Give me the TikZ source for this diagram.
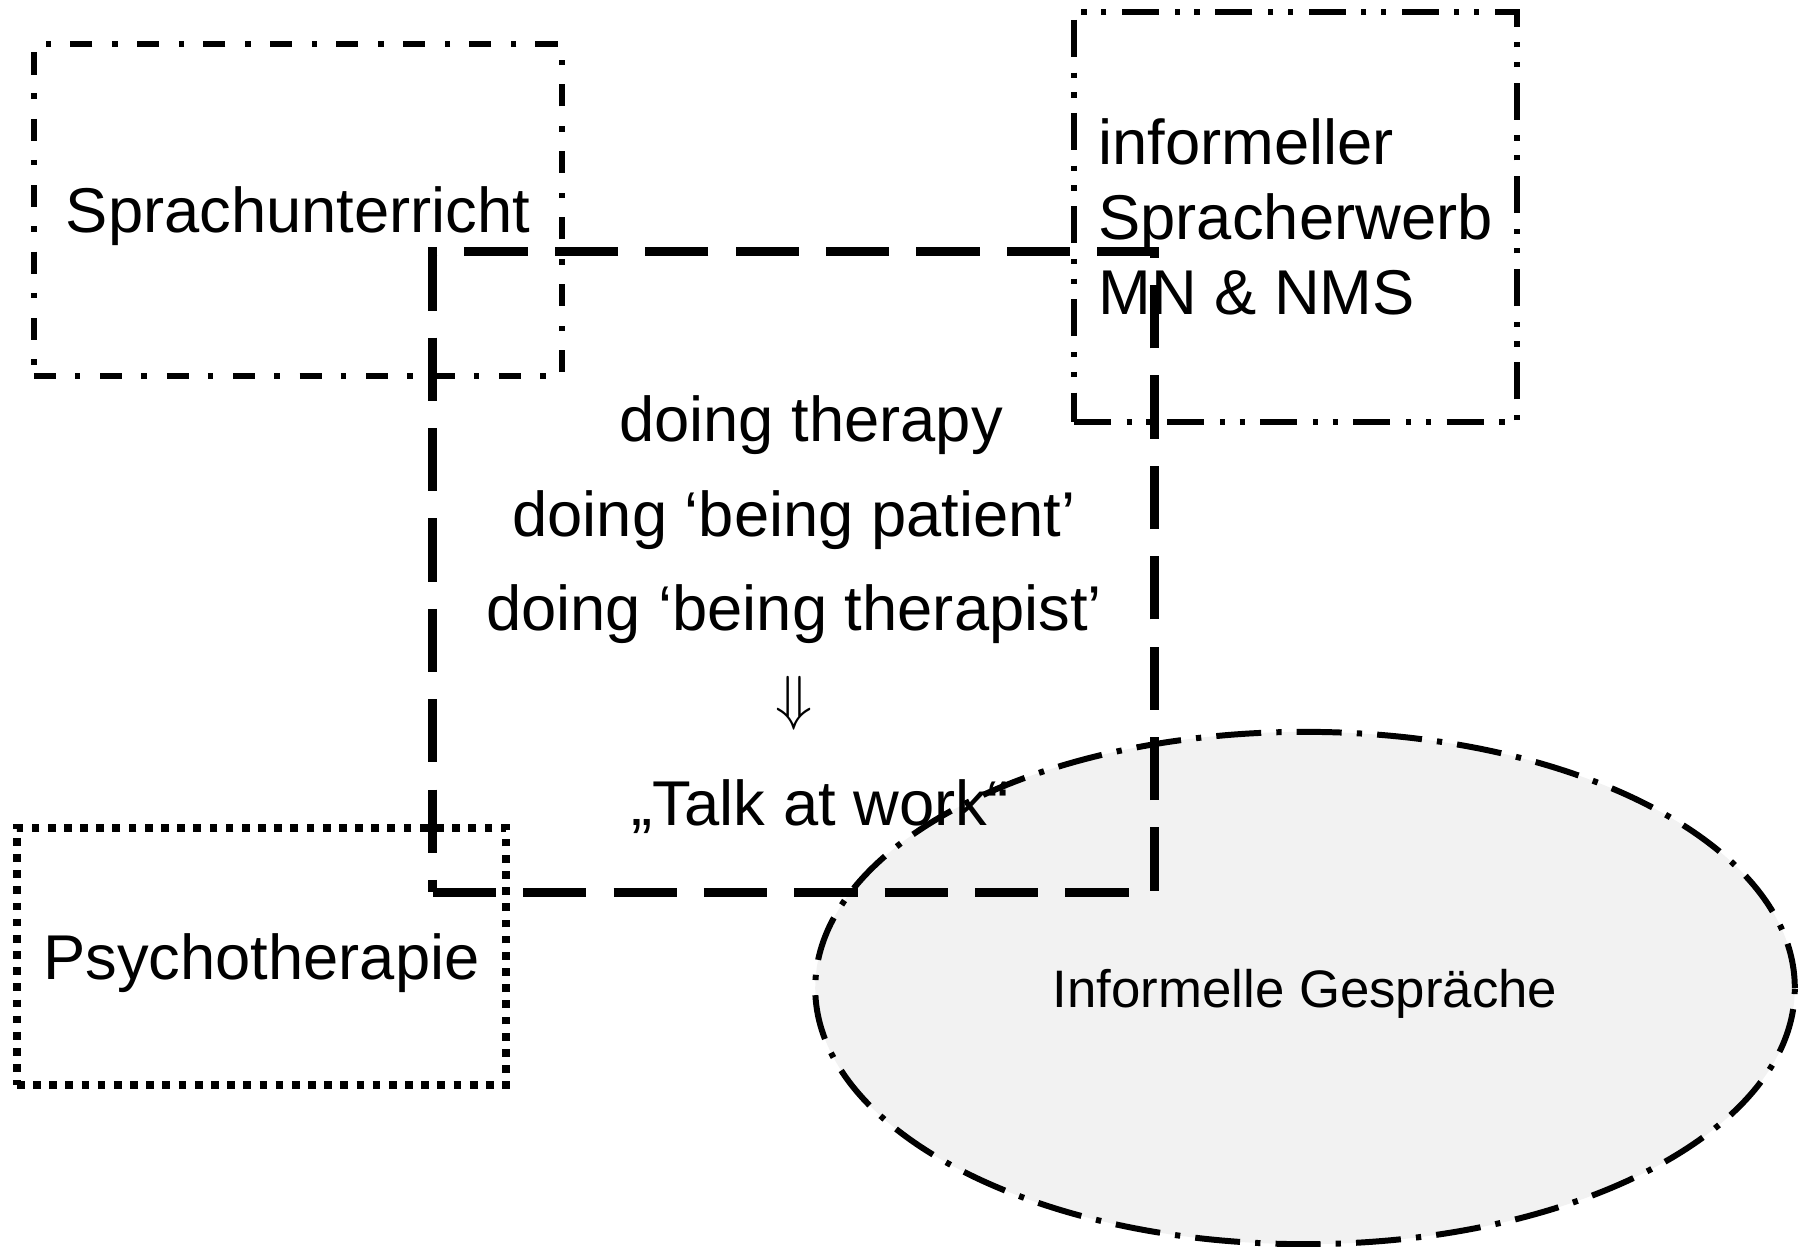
\documentclass[tikz,border=0pt]{standalone}
\usepackage{fontspec}
\setmainfont{Liberation Sans}
\usepackage{tikz}
\usepackage{amsmath}
\usetikzlibrary{shapes}
\usetikzlibrary{positioning}

\begin{document}
\begin{tikzpicture}[x=0.01cm,y=-0.01cm,
    bigtext/.style={font=\fontsize{18}{21.3}\selectfont},
    dashdot/.style={line width=1.7pt,dash pattern=on 6.3pt off 5.4pt on 1.5pt off 5.7pt},
    dashdotdot/.style={line width=1.7pt,dash pattern=on 10.5pt off 4.5pt on 1.5pt off 4.1pt on 1.5pt off 4.4pt},
    longdash/.style={line width=2.6pt,dash pattern=on 18pt off 7.7pt},
    squaredots/.style={line width=2.2pt,dash pattern=on 2.2pt off 2.4pt},
    ovaldash/.style={line width=1.7pt,dash pattern=on 12.8pt off 4.3pt on 1.5pt off 4.3pt}]
  \useasboundingbox (0,0) rectangle (1798,1246);
  % informal talk in the back
  \node[ellipse,draw,ovaldash,fill=black!5,inner sep=0pt,minimum width=9.79cm,minimum height=5.12cm,
        text depth=0pt,font=\fontsize{15}{18}\selectfont] (gespraeche) at (1305,988) {Informelle Gespräche};
  % the therapy frame
  \node[draw,longdash,minimum width=7.21cm,minimum height=6.40cm] (therapie) at (793.5,572) {};
  \begin{scope}[every node/.style={bigtext}]
    \node (doing) at (811,425) {doing therapy};
    \node (patient) at (794,520) {doing ‘being patient’};
    \node (therapist) at (794,614) {doing ‘being therapist’};
    \node (pfeil) at (794,703) {$\Downarrow$};
    \node (talk) at (820,807) {„Talk at work“};
  \end{scope}
  % the neighbouring settings
  \begin{scope}[every node/.style={bigtext,draw,inner sep=0pt}]
    \node[dashdot,text depth=0pt,minimum width=5.28cm,minimum height=3.31cm] (sprach) at (298,210) {Sprachunterricht};
    \node[dashdotdot,minimum width=4.43cm,minimum height=4.10cm,align=left] (erwerb) at (1295.5,217)
      {informeller\\Spracherwerb\\MN \& NMS};
    \node[squaredots,text depth=0pt,minimum width=4.89cm,minimum height=2.57cm] (psycho) at (261.5,956.5) {Psychotherapie};
  \end{scope}
\end{tikzpicture}
\end{document}
